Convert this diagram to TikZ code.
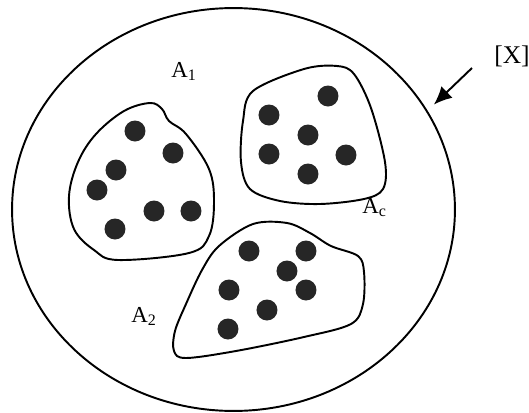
\documentclass[tikz,border=0pt]{standalone}
\usepackage{fontspec}
\setmainfont{Liberation Serif}
\usetikzlibrary{arrows.meta, shapes.geometric}

\begin{document}
\begin{tikzpicture}[
    x=0.02cm, y=-0.02cm,
    space/.style={draw, ellipse, line width=1.1pt, inner sep=0pt,
      minimum width=8.86cm, minimum height=8.06cm},
    blob/.style={draw, line width=1.1pt},
    dot/.style={fill=black!85},
    lbl/.style={font=\fontsize{13}{15}\selectfont, inner sep=0pt, anchor=base west},
    arr/.style={-{Latex[length=3.6mm, width=3.2mm]}, line width=1.1pt}
  ]
  \useasboundingbox (0,0) rectangle (529,413);
  \node[space] (univ) at (233.5,209.5) {};
  % the three subsets
  \draw[blob] plot[smooth cycle, tension=0.6] coordinates {(150,103) (162,109) (169,121)
    (186,134) (209,169) (214,202) (209,236) (189,253) (118,260) (94,250) (74,229) (69,196)
    (78,162) (96,134) (124,111)};
  \draw[blob] plot[smooth cycle, tension=0.55] coordinates {(253,91) (304,69) (337,66)
    (354,74) (371,108) (385,162) (383,189) (364,199) (320,204) (280,201) (250,189)
    (241,162) (243,121)};
  \draw[blob] plot[smooth cycle, tension=0.55] coordinates {(287,223) (310,233) (331,246)
    (358,256) (364,272) (363,304) (351,324) (304,337) (236,351) (186,358) (174,351)
    (175,331) (186,304) (202,270) (219,246) (253,224)};
  % elements
  \foreach \px/\py in {135/131, 173/153, 116/170, 97/190, 154/211, 191/211, 115/229,
      328/96, 269/115, 308/135, 269/154, 346/155, 308/174,
      249/251, 306/251, 287/271, 229/290, 306/290, 267/310, 228/329}
    \fill[dot] (\px,\py) circle (10.5);
  \node[lbl] (a1) at (171,77) {A\textsubscript{1}};
  \node[lbl] (ac) at (362,213) {A\textsubscript{c}};
  \node[lbl] (a2) at (131,322) {A\textsubscript{2}};
  \node[lbl, font=\fontsize{14.5}{17}\selectfont] (xlbl) at (494,63) {[X]};
  \coordinate (xtail) at (472,68);
  \draw[arr, shorten >=5pt] (xtail) -- (univ.27.5);
\end{tikzpicture}
\end{document}
